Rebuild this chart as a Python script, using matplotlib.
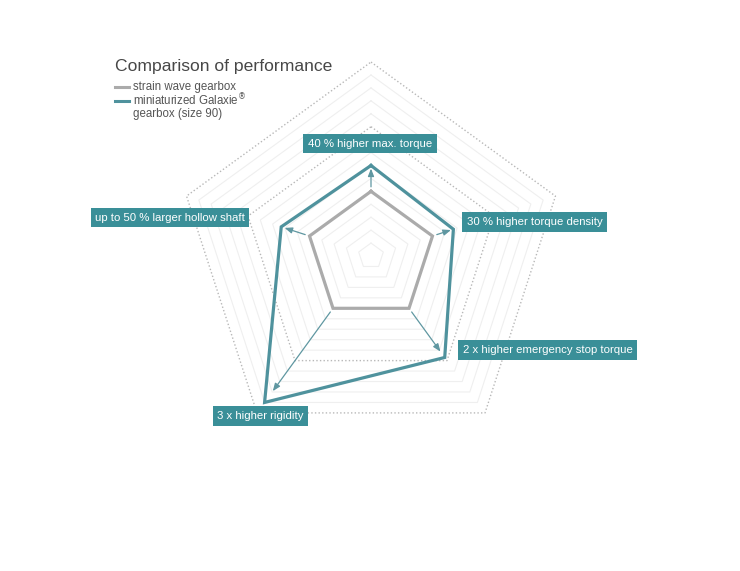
import numpy as np
import matplotlib
matplotlib.use('Agg')
import matplotlib.pyplot as plt

plt.rcParams['font.family'] = ['Liberation Sans', 'DejaVu Sans']

# axes, clockwise from the top
labels = ['40 % higher max. torque', '30 % higher torque density',
          '2 x higher emergency stop torque', '3 x higher rigidity',
          'up to 50 % larger hollow shaft']
strain_wave = [5, 5, 5, 5, 5]
galaxie = [7.0, 6.7, 9.7, 14.0, 7.3]
grid_levels = list(range(1, 16))
dotted_levels = [10, 15]

teal_box = '#3a8f98'
teal_line = '#4f929d'
gray_line = '#ababab'

n = len(labels)
ang = np.pi / 2 - np.arange(n) * 2 * np.pi / n


def pent(r):
    r = np.asarray(r, dtype=float) * np.ones(n)
    x = r * np.cos(ang)
    y = r * np.sin(ang)
    return np.append(x, x[0]), np.append(y, y[0])


fig = plt.figure(figsize=(7.4, 5.71), dpi=100)
ax = fig.add_axes([0, 0, 1, 1])
u = 12.93  # pixels per data unit
cx, cy = 371, 256
ax.set_xlim(-cx / u, (740 - cx) / u)
ax.set_ylim(-(571 - cy) / u, cy / u)
ax.axis('off')

for lev in grid_levels:
    x, y = pent(lev)
    if lev in dotted_levels:
        ax.plot(x, y, color='#b8b8b8', lw=1.0, ls=(0, (1, 1.6)), zorder=1)
    else:
        ax.plot(x, y, color='#efefef', lw=0.8, zorder=1)

x, y = pent(strain_wave)
ax.plot(x, y, color=gray_line, lw=2.3, zorder=3, solid_joinstyle='miter')
x, y = pent(galaxie)
ax.plot(x, y, color=teal_line, lw=2.3, zorder=4, solid_joinstyle='miter')

# arrows from the strain wave value towards the Galaxie value
for i in range(n):
    g = strain_wave[i]
    t = galaxie[i]
    r0 = g * 1.07
    r1 = g + 0.88 * (t - g)
    ax.annotate('', xy=(r1 * np.cos(ang[i]), r1 * np.sin(ang[i])),
                xytext=(r0 * np.cos(ang[i]), r0 * np.sin(ang[i])),
                arrowprops=dict(arrowstyle='-|>,head_length=0.45,head_width=0.18',
                                color='#5f97a1', lw=0.9, shrinkA=0, shrinkB=0),
                zorder=5)

# label boxes (pixel centres of the boxes)
label_pos = [(370, 143.5), (534.5, 222), (547.5, 350), (260.5, 416), (170, 217.5)]
for lab, (px, py) in zip(labels, label_pos):
    ax.text((px - cx) / u, (cy - py) / u, lab, ha='center', va='center',
            color='white', fontsize=8.2, zorder=6,
            bbox=dict(boxstyle='square,pad=0.4', fc=teal_box, ec='none'))

# title and legend
fig.text(115 / 740, 1 - 66 / 571, 'Comparison of performance', fontsize=12.6,
         color='#474747', va='center', ha='left')
fig.add_artist(plt.Line2D([115 / 740, 129 / 740], [1 - 87 / 571] * 2,
                          color=gray_line, lw=2.2))
fig.add_artist(plt.Line2D([115 / 740, 129 / 740], [1 - 100.5 / 571] * 2,
                          color=teal_line, lw=2.2))
fig.text(133 / 740, 1 - 87 / 571, 'strain wave gearbox', fontsize=8.3,
         color='#555555', va='center')
fig.text(133 / 740, 1 - 100.5 / 571, 'miniaturized Galaxie$^{\\circledR}$', fontsize=8.3,
         color='#555555', va='center')
fig.text(133 / 740, 1 - 114 / 571, 'gearbox (size 90)', fontsize=8.3,
         color='#555555', va='center')

fig.savefig('out.png', dpi=100)
